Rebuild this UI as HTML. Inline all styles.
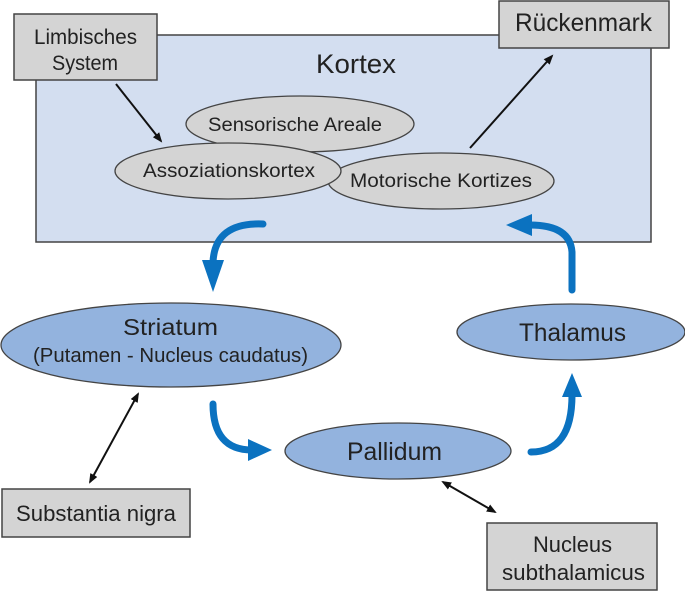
<!DOCTYPE html>
<html><head><meta charset="utf-8"><style>
html,body{margin:0;padding:0;background:#fff}
text{font-family:"Liberation Sans Narrow","Liberation Sans",sans-serif;fill:#222}
</style></head><body>
<svg width="685" height="591" viewBox="0 0 685 591" xmlns="http://www.w3.org/2000/svg">
<defs>
<marker id="ah" markerWidth="10" markerHeight="10" refX="8" refY="5" orient="auto-start-reverse" markerUnits="userSpaceOnUse"><path d="M0,1 L10,5 L0,9 Z" fill="#111"/></marker>
</defs>
<rect x="36" y="35" width="615" height="207" fill="#d3def0" stroke="#444" stroke-width="1.5"/>
<rect x="14" y="14" width="143" height="66" fill="#d4d4d4" stroke="#444" stroke-width="1.5"/>
<text x="34" y="44" font-size="21" textLength="103" lengthAdjust="spacingAndGlyphs">Limbisches</text>
<text x="52" y="70" font-size="21" textLength="66" lengthAdjust="spacingAndGlyphs">System</text>
<rect x="499" y="1" width="170" height="47" fill="#d4d4d4" stroke="#444" stroke-width="1.5"/>
<text x="515" y="31" font-size="25" textLength="137" lengthAdjust="spacingAndGlyphs">Rückenmark</text>
<text x="316" y="73" font-size="27" textLength="80" lengthAdjust="spacingAndGlyphs">Kortex</text>
<ellipse cx="300" cy="124" rx="114" ry="28" fill="#d4d4d4" stroke="#444" stroke-width="1.3"/>
<text x="208" y="131" font-size="19" textLength="174" lengthAdjust="spacingAndGlyphs">Sensorische Areale</text>
<ellipse cx="441" cy="181" rx="113" ry="28" fill="#d4d4d4" stroke="#444" stroke-width="1.3"/>
<text x="350" y="187" font-size="19" textLength="182" lengthAdjust="spacingAndGlyphs">Motorische Kortizes</text>
<ellipse cx="228" cy="171" rx="113" ry="28" fill="#d4d4d4" stroke="#444" stroke-width="1.3"/>
<text x="143" y="177" font-size="19" textLength="172" lengthAdjust="spacingAndGlyphs">Assoziationskortex</text>
<line x1="116" y1="84" x2="161" y2="141" stroke="#111" stroke-width="2" marker-end="url(#ah)"/>
<line x1="470" y1="148" x2="552" y2="56" stroke="#111" stroke-width="2" marker-end="url(#ah)"/>
<ellipse cx="171" cy="345" rx="170" ry="42" fill="#93b3de" stroke="#444" stroke-width="1.3"/>
<text x="123" y="335" font-size="23" textLength="95" lengthAdjust="spacingAndGlyphs">Striatum</text>
<text x="33" y="362" font-size="20" textLength="275" lengthAdjust="spacingAndGlyphs">(Putamen - Nucleus caudatus)</text>
<ellipse cx="571" cy="332" rx="114" ry="28" fill="#93b3de" stroke="#444" stroke-width="1.3"/>
<text x="519" y="341" font-size="25" textLength="107" lengthAdjust="spacingAndGlyphs">Thalamus</text>
<ellipse cx="398" cy="451" rx="113" ry="28" fill="#93b3de" stroke="#444" stroke-width="1.3"/>
<text x="347" y="460" font-size="25" textLength="95" lengthAdjust="spacingAndGlyphs">Pallidum</text>
<rect x="2" y="489" width="188" height="48" fill="#d4d4d4" stroke="#444" stroke-width="1.5"/>
<text x="16" y="521" font-size="22" textLength="160" lengthAdjust="spacingAndGlyphs">Substantia nigra</text>
<rect x="487" y="523" width="170" height="67" fill="#d4d4d4" stroke="#444" stroke-width="1.5"/>
<text x="533" y="552" font-size="22" textLength="79" lengthAdjust="spacingAndGlyphs">Nucleus</text>
<text x="502" y="580" font-size="22" textLength="143" lengthAdjust="spacingAndGlyphs">subthalamicus</text>
<line x1="138" y1="394" x2="90" y2="482" stroke="#111" stroke-width="2" marker-start="url(#ah)" marker-end="url(#ah)"/>
<line x1="443" y1="482" x2="495" y2="512" stroke="#111" stroke-width="2" marker-start="url(#ah)" marker-end="url(#ah)"/>
<g fill="none" stroke="#0b72c0" stroke-width="7" stroke-linecap="round">
<path d="M263,224 Q215,222 213,262"/>
<path d="M572,290 L572,252 Q570,225 530,225"/>
<path d="M213,404 Q213,450 252,450"/>
<path d="M531,452 Q572,452 572,395"/>
</g>
<g fill="#0b72c0">
<path d="M202,260 L224,260 L213,292 Z"/>
<path d="M532,214 L532,236 L506,225 Z"/>
<path d="M248,439 L248,461 L272,450 Z"/>
<path d="M562,397 L582,397 L572,373 Z"/>
</g>
</svg>
</body></html>
